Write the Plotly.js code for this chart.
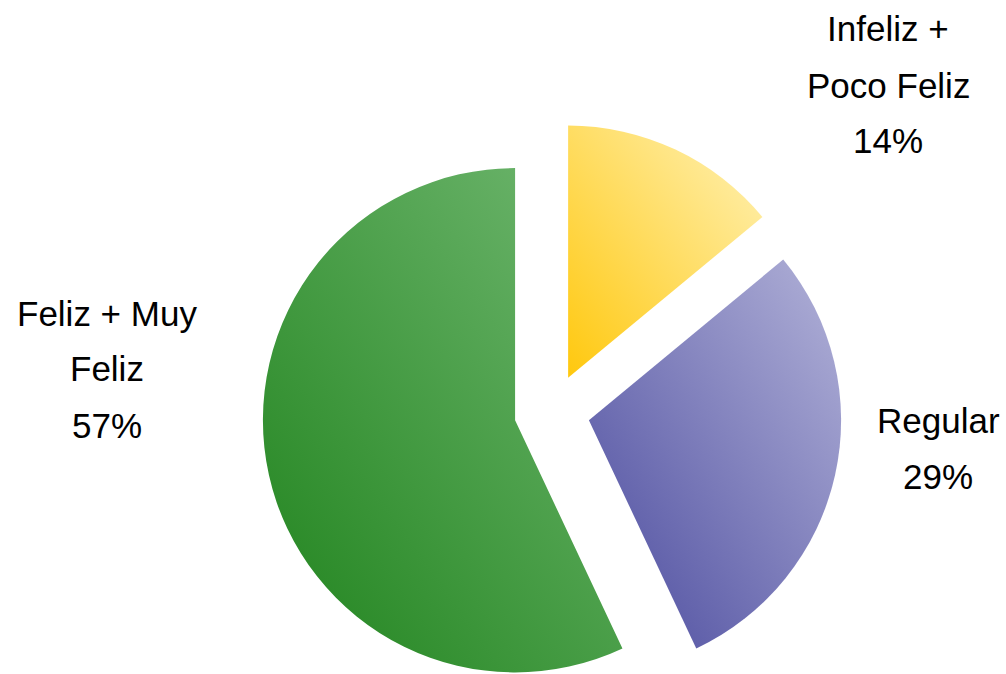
<!DOCTYPE html>
<html>
<head>
<meta charset="utf-8">
<script src="https://cdn.plot.ly/plotly-3.0.1.min.js"></script>
<style>
html, body { margin: 0; padding: 0; width: 1006px; height: 674px; overflow: hidden; background: #fff; }
#chart { width: 1006px; height: 720px; }
</style>
</head>
<body>
<div id="chart"></div>
<script>
// Data
const labels = ["Infeliz +\nPoco Feliz", "Regular", "Feliz + Muy\nFeliz"];
const values = [14, 29, 57];
const colors = ["#FFDD70", "#8A8AC0", "#48A048"];

// Styling (not data)
const gradStops = [
  ["#FFC80E", "#FFF2B8"],
  ["#4A4A9E", "#B2B2D8"],
  ["#1F831C", "#72B872"]
];
const H = 720;
const labelPos = [ {x: 888, y: 42}, {x: 938, y: 433}, {x: 107, y: 326} ]; // baseline of first line, px
const lineGap = 56;
const fontFam = "Liberation Sans, Arial, sans-serif";
const fontSize = 35;

const total = values.reduce((a, b) => a + b, 0);
const annotations = [];
labels.forEach((lab, i) => {
  const lines = lab.split("\n").concat([Math.round(values[i] / total * 100) + "%"]);
  lines.forEach((t, j) => {
    const by = labelPos[i].y + j * lineGap;
    annotations.push({
      text: t, showarrow: false, xref: "paper", yref: "paper",
      x: labelPos[i].x / 1006, y: 1 - (by - 13) / H,
      xanchor: "center", yanchor: "middle",
      font: {family: fontFam, size: fontSize, color: "#000"}
    });
  });
});

const trace = {
  type: "pie",
  labels: labels.map(l => l.replace("\n", " ")),
  values: values,
  sort: false,
  direction: "clockwise",
  rotation: 0,
  pull: [0.15, 0.15, 0.15],
  marker: {colors: colors, line: {width: 0}},
  textinfo: "none",
  hoverinfo: "skip",
  showlegend: false,
  domain: {x: [262 / 1006, 842 / 1006], y: [(H - 702) / H, (H - 122) / H]}
};

const layout = {
  width: 1006, height: H,
  margin: {l: 0, r: 0, t: 0, b: 0},
  paper_bgcolor: "#fff",
  showlegend: false,
  annotations: annotations
};

Plotly.newPlot("chart", [trace], layout, {staticPlot: true, displayModeBar: false}).then(gd => {
  const svg = gd.querySelector("svg.main-svg");
  const ns = "http://www.w3.org/2000/svg";
  const defs = document.createElementNS(ns, "defs");
  gradStops.forEach((s, i) => {
    const g = document.createElementNS(ns, "linearGradient");
    g.setAttribute("id", "sliceGrad" + i);
    g.setAttribute("x1", "0"); g.setAttribute("y1", "1");
    g.setAttribute("x2", "1"); g.setAttribute("y2", "0");
    [[0, s[0]], [1, s[1]]].forEach(([o, c]) => {
      const st = document.createElementNS(ns, "stop");
      st.setAttribute("offset", o);
      st.setAttribute("stop-color", c);
      g.appendChild(st);
    });
    defs.appendChild(g);
  });
  svg.insertBefore(defs, svg.firstChild);
  gd.querySelectorAll(".slice path.surface").forEach((p, i) => {
    p.style.fill = "url(#sliceGrad" + i + ")";
  });
});
</script>
</body>
</html>
